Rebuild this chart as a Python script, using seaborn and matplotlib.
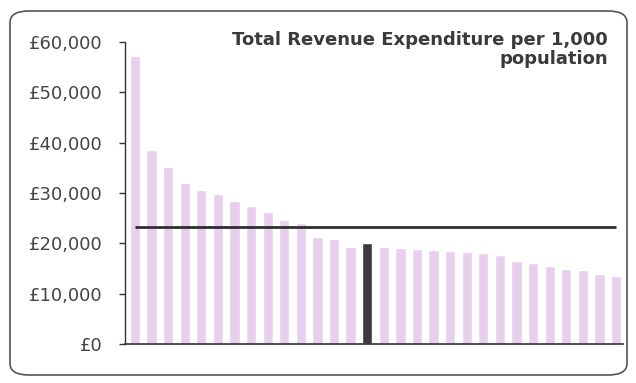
import numpy as np
import pandas as pd
import seaborn as sns
import matplotlib.pyplot as plt
from matplotlib.patches import FancyBboxPatch
from matplotlib.ticker import FuncFormatter

# revenue expenditure per 1,000 population, one bar per authority (sorted)
spend = [57300, 38600, 35200, 31900, 30600, 29800, 28400, 27400, 26300, 24600,
         24000, 21300, 20900, 19300, 20000, 19200, 19000, 18800, 18700, 18400,
         18200, 18000, 17700, 16400, 16000, 15500, 15000, 14700, 13900, 13500]
highlight = 14          # the authority shown in dark
average = 23300         # horizontal reference line
title = "Total Revenue Expenditure per 1,000\npopulation"
y_ticks = [0, 10000, 20000, 30000, 40000, 50000, 60000]

df = pd.DataFrame({"authority": [str(i) for i in range(len(spend))], "spend": spend})
colors = ["#e9cfee"] * len(spend)
colors[highlight] = "#3b3b3b"

sns.set_style("white")
plt.rcParams['font.family'] = ['DejaVu Sans']

fig = plt.figure(figsize=(6.36, 3.83), dpi=100)
ax = fig.add_axes([125 / 636, 39 / 383, 497.7 / 636, 302 / 383])

sns.barplot(data=df, x="authority", y="spend", hue="authority", palette=colors,
            legend=False, width=0.62, saturation=1, ax=ax)

ax.hlines(average, 0, len(spend) - 1, color="#2e2e2e", linewidth=2)

ax.set_xlim(-0.6, 29.4)
ax.set_ylim(0, 60000)
ax.set_yticks(y_ticks)
ax.yaxis.set_major_formatter(FuncFormatter(lambda v, p: "£{:,.0f}".format(v)))
ax.set_xticks([])
ax.set_xlabel("")
ax.set_ylabel("")
ax.tick_params(axis="y", left=True, length=4, width=1, color="#333333",
               labelsize=13, labelcolor="#444444", pad=12)

sns.despine(ax=ax, top=True, right=True)
ax.spines["left"].set_color("#333333")
ax.spines["left"].set_linewidth(1)
ax.spines["bottom"].set_color("#333333")
ax.spines["bottom"].set_linewidth(1.2)

fig.text(608 / 636, 1 - 31 / 383, title, ha="right", va="top", fontsize=13,
         fontweight="bold", color="#3a3a3a", linespacing=1.1)

border = FancyBboxPatch((10 / 636, 8 / 383), 617 / 636, 364 / 383,
                        boxstyle="round,pad=0,rounding_size=0.03",
                        transform=fig.transFigure, fill=False,
                        edgecolor="#555555", linewidth=1.2)
fig.patches.append(border)

fig.savefig("out.png", dpi=100)
